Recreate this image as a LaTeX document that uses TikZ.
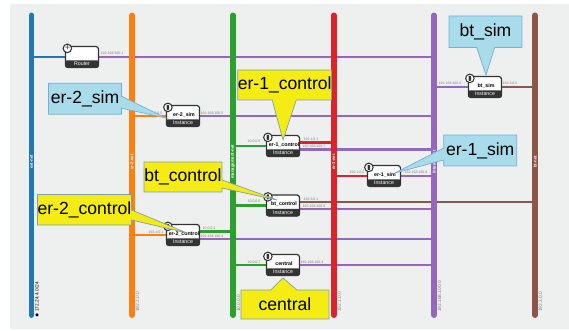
\documentclass[tikz,border=0pt]{standalone}
\usepackage{fontspec}
\setmainfont{Liberation Sans}
\usetikzlibrary{calc,shapes.callouts}
\pgfdeclarelayer{background}
\pgfsetlayers{background,main}
\definecolor{panelgray}{HTML}{EEF0F0}
\definecolor{netblue}{HTML}{1F77B4}
\definecolor{netorange}{HTML}{FF7F0E}
\definecolor{netgreen}{HTML}{2CA02C}
\definecolor{netred}{HTML}{DC2327}
\definecolor{netpurple}{HTML}{9467BD}
\definecolor{netbrown}{HTML}{8C564B}
\definecolor{boxdark}{HTML}{333333}
\definecolor{noteyellow}{HTML}{F4EC12}
\definecolor{noteblue}{HTML}{A8DCEA}
\tikzset{
  netbar/.style={line width=3.4pt, line cap=round},
  netlink/.style={line width=1.5pt},
  instbox/.style={draw=boxdark, line width=0.7pt, fill=white, rounded corners=1.5pt,
    minimum width=0.66cm, minimum height=0.42cm, inner sep=0pt},
  instfoot/.style={fill=boxdark, rounded corners=1.2pt, minimum width=0.68cm,
    minimum height=0.15cm, inner sep=0pt, text=white, font=\fontsize{3}{3}\selectfont},
  instname/.style={inner sep=0pt, font=\fontsize{3}{3}\selectfont\bfseries},
  insticon/.style={circle, draw=boxdark, line width=0.6pt, fill=white, minimum size=0.17cm, inner sep=0pt},
  iconcore/.style={fill=boxdark, rounded corners=0.3pt, minimum width=0.05cm, minimum height=0.1cm, inner sep=0pt},
  iptext/.style={inner sep=0pt, text=gray, font=\fontsize{2}{3}\selectfont},
  barname/.style={inner sep=0pt, rotate=90, text=white, font=\fontsize{2.4}{3}\selectfont\bfseries},
  cidrtext/.style={inner sep=0pt, rotate=90, text=gray, font=\fontsize{2.7}{3}\selectfont},
  note/.style={rectangle callout, inner sep=0pt, font=\fontsize{10}{12}\selectfont},
  yellownote/.style={note, fill=noteyellow, draw=gray!70!cyan, line width=0.4pt},
  bluenote/.style={note, fill=noteblue, draw=netblue!60, line width=0.4pt},
}
\begin{document}
\begin{tikzpicture}[x=0.02cm,y=-0.02cm]
\useasboundingbox (0,0) rectangle (569,331);
\begin{pgfonlayer}{background}
\fill[panelgray] (10,4) rectangle (569,329);
\end{pgfonlayer}

% networks
\foreach \n/\x/\t/\c in {blue/31.5/ext-net/\textcolor{black}{172.24.4.0\,/24},orange/132/er-2-net/192.2.0.0\,/24,green/233/management-net/10.0.0.0\,/24,red/333.7/er-1-net/192.1.0.0\,/24,purple/434/internal-net/192.168.100.0\,/24,brown/535/bt-net/192.3.0.0\,/24}
{
\coordinate (\n top) at (\x,15.5);
\coordinate (\n end) at (\x,315);
\draw[netbar, color=net\n] (\n top) -- (\n end);
\node[barname] (\n name) at (\x,162) {\t};
\node[cidrtext, anchor=west] (\n cidr) at (\x+5.5,312) {\c};
}
\node[circle, fill=black, inner sep=0pt, minimum size=0.07cm] (globe) at (37,315) {};

% instances
\foreach \n/\x/\y/\t in {er2sim/183/116/er-2\_sim,btsim/485/87/bt\_sim,er1control/283/146/er-1\_control,er1sim/384/176/er-1\_sim,btcontrol/283/205.5/bt\_control,er2control/183/235/er-2\_control,central/283/265/central}
{
\node[instbox] (\n) at (\x,\y) {};
\node[instfoot, anchor=south] (\n foot) at (\n.south) {Instance};
\node[instname] (\n name) at ($(\n.center)+(1,-1.5)$) {\t};
\node[insticon] (\n icon) at ($(\n.north west)+(2,2.5)$) {};
\node[iconcore] (\n core) at (\n icon) {};
}
\node[instbox] (router) at (82,57) {};
\node[instfoot, anchor=south] (router foot) at (router.south) {Router};
\node[insticon] (router icon) at ($(router.north west)+(2.5,2.5)$) {};
\node[inner sep=0pt, font=\fontsize{5}{5}\selectfont, text=boxdark] (router core) at (router icon) {+};

% links
\begin{pgfonlayer}{background}
\draw[netlink, netblue] (router.west) -- (router.west -| bluetop);
\draw[netlink, netpurple] (router.east) -- (router.east -| purpletop);
\draw[netlink, netorange] (er2sim.west) -- (er2sim.west -| orangetop);
\draw[netlink, netpurple] (er2sim.east) -- (er2sim.east -| purpletop);
\draw[netlink, netpurple] (btsim.west) -- (btsim.west -| purpletop);
\draw[netlink, netbrown] (btsim.east) -- (btsim.east -| browntop);
\draw[netlink, netgreen] (er1control.west) -- (er1control.west -| greentop);
\draw[netlink, netred] ($(er1control.east)+(0,-3.7)$) -- ($(er1control.east -| redtop)+(0,-3.7)$);
\draw[netlink, netpurple] ($(er1control.east)+(0,3.3)$) -- ($(er1control.east -| purpletop)+(0,3.3)$);
\draw[netlink, netred] (er1sim.west) -- (er1sim.west -| redtop);
\draw[netlink, netpurple] (er1sim.east) -- (er1sim.east -| purpletop);
\draw[netlink, netgreen] (btcontrol.west) -- (btcontrol.west -| greentop);
\draw[netlink, netbrown] ($(btcontrol.east)+(0,-3.5)$) -- ($(btcontrol.east -| browntop)+(0,-3.5)$);
\draw[netlink, netpurple] ($(btcontrol.east)+(0,3.5)$) -- ($(btcontrol.east -| purpletop)+(0,3.5)$);
\draw[netlink, netorange] (er2control.west) -- (er2control.west -| orangetop);
\draw[netlink, netgreen] ($(er2control.east)+(0,-3.4)$) -- ($(er2control.east -| greentop)+(0,-3.4)$);
\draw[netlink, netpurple] ($(er2control.east)+(0,4)$) -- ($(er2control.east -| purpletop)+(0,4)$);
\draw[netlink, netgreen] (central.west) -- (central.west -| greentop);
\draw[netlink, netpurple] (central.east) -- (central.east -| purpletop);
\end{pgfonlayer}

% addresses
\foreach \x/\y/\t [count=\i] in {
  112/53.5/192.168.100.1,
  155/113.5/192.2.0.5,
  212/113.5/192.168.100.5,
  450/83.5/192.168.100.6,
  510/83.5/192.3.0.5,
  254/141.5/10.0.0.5,
  311/139/192.1.0.1,
  314/146/192.168.100.7,
  357/172/192.1.0.5,
  416/172/192.168.100.8,
  254/201.5/10.0.0.6,
  311/199/192.3.0.1,
  314/206/192.168.100.9,
  156/232/192.2.0.1,
  209/228.5/10.0.0.4,
  212/236/192.168.100.4,
  254/262/10.0.0.7,
  312/262/192.168.100.3}
{
\node[iptext] (ip\i) at (\x,\y) {\t};
}

% callouts
\node[bluenote, minimum width=1.46cm, minimum height=0.62cm, callout pointer width=0.24cm,
  callout absolute pointer={(166,118)}] (er2simnote) at (85,98.7) {er-2\_sim};
\node[bluenote, minimum width=1.46cm, minimum height=0.63cm, callout pointer width=0.36cm,
  callout absolute pointer={(486,75)}] (btsimnote) at (485.5,31.7) {bt\_sim};
\node[yellownote, minimum width=1.86cm, minimum height=0.6cm, callout pointer width=0.48cm,
  callout absolute pointer={(283,140)}] (er1controlnote) at (284.7,85) {er-1\_control};
\node[bluenote, minimum width=1.46cm, minimum height=0.62cm, callout pointer width=0.24cm,
  callout absolute pointer={(395,173)}] (er1simnote) at (480.2,150.5) {er-1\_sim};
\node[yellownote, minimum width=1.56cm, minimum height=0.6cm, callout pointer width=0.16cm,
  callout absolute pointer={(277,200)}] (btcontrolnote) at (183,177) {bt\_control};
\node[yellownote, minimum width=1.88cm, minimum height=0.61cm, callout pointer width=0.2cm,
  callout absolute pointer={(187,233)}] (er2controlnote) at (84.5,209.7) {er-2\_control};
\node[yellownote, minimum width=1.76cm, minimum height=0.58cm, callout pointer width=0.52cm,
  callout absolute pointer={(283,278)}] (centralnote) at (285,304.5) {central};
\end{tikzpicture}
\end{document}
